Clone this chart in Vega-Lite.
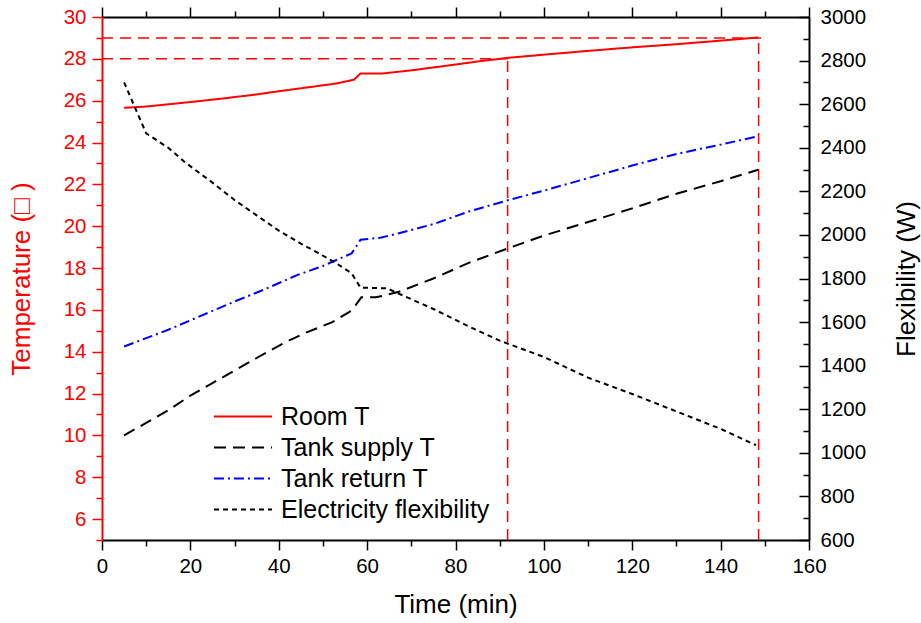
{
  "$schema": "https://vega.github.io/schema/vega-lite/v6.json",
  "autosize": {"type": "none"},
  "padding": {"left": 102, "top": 17, "right": 112, "bottom": 83},
  "width": 707,
  "height": 523,
  "background": "white",
  "config": {
    "view": {"stroke": null},
    "font": "Liberation Sans",
    "axis": {
      "labelFont": "Liberation Sans",
      "titleFont": "Liberation Sans",
      "labelFontSize": 20.5,
      "titleFontSize": 26,
      "titleFontWeight": "normal",
      "labelColor": "black",
      "titleColor": "black",
      "domainColor": "black",
      "tickColor": "black",
      "domainWidth": 2,
      "tickWidth": 1.5,
      "grid": false,
      "labelOverlap": false,
      "labelFlush": false,
      "labelBound": false
    }
  },
  "datasets": {
    "temps": [
      {"series": "Room T", "t": 5, "v": 25.66},
      {"series": "Room T", "t": 10, "v": 25.72},
      {"series": "Room T", "t": 17, "v": 25.87},
      {"series": "Room T", "t": 22, "v": 25.98},
      {"series": "Room T", "t": 28, "v": 26.12},
      {"series": "Room T", "t": 35, "v": 26.3},
      {"series": "Room T", "t": 40, "v": 26.45},
      {"series": "Room T", "t": 47, "v": 26.65},
      {"series": "Room T", "t": 53, "v": 26.82},
      {"series": "Room T", "t": 57, "v": 27.0},
      {"series": "Room T", "t": 58.5, "v": 27.3},
      {"series": "Room T", "t": 63.5, "v": 27.3},
      {"series": "Room T", "t": 70, "v": 27.45},
      {"series": "Room T", "t": 79, "v": 27.7},
      {"series": "Room T", "t": 86, "v": 27.9},
      {"series": "Room T", "t": 92, "v": 28.05},
      {"series": "Room T", "t": 100, "v": 28.2},
      {"series": "Room T", "t": 110, "v": 28.38},
      {"series": "Room T", "t": 120, "v": 28.55},
      {"series": "Room T", "t": 130, "v": 28.7},
      {"series": "Room T", "t": 140, "v": 28.87},
      {"series": "Room T", "t": 148.5, "v": 29.02},
      {"series": "Tank supply T", "t": 5, "v": 10.0},
      {"series": "Tank supply T", "t": 10, "v": 10.6},
      {"series": "Tank supply T", "t": 15, "v": 11.2},
      {"series": "Tank supply T", "t": 20, "v": 11.9},
      {"series": "Tank supply T", "t": 25, "v": 12.5},
      {"series": "Tank supply T", "t": 30, "v": 13.1},
      {"series": "Tank supply T", "t": 35, "v": 13.7},
      {"series": "Tank supply T", "t": 41, "v": 14.4},
      {"series": "Tank supply T", "t": 46, "v": 14.9},
      {"series": "Tank supply T", "t": 52, "v": 15.4},
      {"series": "Tank supply T", "t": 56, "v": 15.9},
      {"series": "Tank supply T", "t": 57.5, "v": 16.25},
      {"series": "Tank supply T", "t": 58.7, "v": 16.6},
      {"series": "Tank supply T", "t": 62, "v": 16.6},
      {"series": "Tank supply T", "t": 67, "v": 16.85},
      {"series": "Tank supply T", "t": 75, "v": 17.5},
      {"series": "Tank supply T", "t": 83, "v": 18.25},
      {"series": "Tank supply T", "t": 92, "v": 18.95},
      {"series": "Tank supply T", "t": 100, "v": 19.55},
      {"series": "Tank supply T", "t": 110, "v": 20.2},
      {"series": "Tank supply T", "t": 120, "v": 20.85},
      {"series": "Tank supply T", "t": 130, "v": 21.55},
      {"series": "Tank supply T", "t": 140, "v": 22.15},
      {"series": "Tank supply T", "t": 148.5, "v": 22.7},
      {"series": "Tank return T", "t": 5, "v": 14.25},
      {"series": "Tank return T", "t": 10, "v": 14.65},
      {"series": "Tank return T", "t": 15, "v": 15.05},
      {"series": "Tank return T", "t": 20, "v": 15.5},
      {"series": "Tank return T", "t": 25, "v": 15.95},
      {"series": "Tank return T", "t": 30, "v": 16.4},
      {"series": "Tank return T", "t": 37, "v": 17.0},
      {"series": "Tank return T", "t": 44, "v": 17.65},
      {"series": "Tank return T", "t": 50, "v": 18.1},
      {"series": "Tank return T", "t": 56.5, "v": 18.7},
      {"series": "Tank return T", "t": 58.5, "v": 19.35},
      {"series": "Tank return T", "t": 63, "v": 19.45},
      {"series": "Tank return T", "t": 67, "v": 19.65},
      {"series": "Tank return T", "t": 75, "v": 20.1},
      {"series": "Tank return T", "t": 83, "v": 20.7},
      {"series": "Tank return T", "t": 92, "v": 21.25},
      {"series": "Tank return T", "t": 100, "v": 21.7},
      {"series": "Tank return T", "t": 110, "v": 22.3},
      {"series": "Tank return T", "t": 120, "v": 22.9},
      {"series": "Tank return T", "t": 130, "v": 23.45},
      {"series": "Tank return T", "t": 140, "v": 23.9},
      {"series": "Tank return T", "t": 148.5, "v": 24.3}
    ],
    "flex": [
      {"series": "Electricity flexibility", "t": 5, "w": 2700},
      {"series": "Electricity flexibility", "t": 10, "w": 2466},
      {"series": "Electricity flexibility", "t": 15, "w": 2400},
      {"series": "Electricity flexibility", "t": 19, "w": 2330},
      {"series": "Electricity flexibility", "t": 25, "w": 2240},
      {"series": "Electricity flexibility", "t": 30, "w": 2160},
      {"series": "Electricity flexibility", "t": 35, "w": 2090},
      {"series": "Electricity flexibility", "t": 40, "w": 2020},
      {"series": "Electricity flexibility", "t": 45, "w": 1960},
      {"series": "Electricity flexibility", "t": 49, "w": 1916},
      {"series": "Electricity flexibility", "t": 53, "w": 1870},
      {"series": "Electricity flexibility", "t": 56.5, "w": 1824},
      {"series": "Electricity flexibility", "t": 58.5, "w": 1758},
      {"series": "Electricity flexibility", "t": 64.5, "w": 1755},
      {"series": "Electricity flexibility", "t": 67, "w": 1732},
      {"series": "Electricity flexibility", "t": 75, "w": 1660},
      {"series": "Electricity flexibility", "t": 83, "w": 1580},
      {"series": "Electricity flexibility", "t": 90, "w": 1515},
      {"series": "Electricity flexibility", "t": 100, "w": 1440},
      {"series": "Electricity flexibility", "t": 110, "w": 1345},
      {"series": "Electricity flexibility", "t": 120, "w": 1270},
      {"series": "Electricity flexibility", "t": 130, "w": 1190},
      {"series": "Electricity flexibility", "t": 140, "w": 1110},
      {"series": "Electricity flexibility", "t": 148, "w": 1035}
    ],
    "refs": [
      {"t": 0, "t2": 91.8, "v": 28, "v2": 28},
      {"t": 0, "t2": 149.5, "v": 29, "v2": 29},
      {"t": 91.8, "t2": 91.8, "v": 5, "v2": 28},
      {"t": 148.6, "t2": 148.6, "v": 5, "v2": 29}
    ]
  },
  "layer": [
    {
      "encoding": {
        "x": {
          "field": "t", "type": "quantitative",
          "scale": {"domain": [0, 160], "nice": false, "zero": false},
          "axis": {
            "orient": "bottom",
            "title": "Time (min)",
            "values": [0, 10, 20, 30, 40, 50, 60, 70, 80, 90, 100, 110, 120, 130, 140, 150, 160],
            "labelExpr": "datum.value % 20 === 0 ? datum.label : ''",
            "tickSize": {"condition": {"test": "datum.value % 20 !== 0", "value": 6}, "value": 10},
            "labelPadding": 6,
            "titlePadding": 15
          }
        },
        "y": {
          "field": "v", "type": "quantitative",
          "scale": {"domain": [5, 30], "nice": false, "zero": false},
          "axis": {
            "orient": "left",
            "title": "Temperature (□ )",
            "values": [5, 6, 7, 8, 9, 10, 11, 12, 13, 14, 15, 16, 17, 18, 19, 20, 21, 22, 23, 24, 25, 26, 27, 28, 29, 30],
            "labelExpr": "datum.value % 2 === 0 ? datum.label : ''",
            "tickSize": {"condition": {"test": "datum.value % 2 !== 0", "value": 6}, "value": 10},
            "domainColor": "#ff0000",
            "tickColor": "#ff0000",
            "labelColor": "#ff0000",
            "titleColor": "#ff0000",
            "labelPadding": 6,
            "titlePadding": 29
          }
        }
      },
      "layer": [
        {
          "data": {"name": "refs"},
          "mark": {"type": "rule", "color": "#ff0000", "strokeWidth": 1.5, "strokeDash": [11, 7]},
          "encoding": {
            "x2": {"field": "t2"},
            "y2": {"field": "v2"}
          }
        },
        {
          "data": {"name": "temps"},
          "mark": {"type": "line", "strokeWidth": 2},
          "encoding": {
            "color": {
              "field": "series", "type": "nominal",
              "scale": {
                "domain": ["Room T", "Tank supply T", "Tank return T", "Electricity flexibility"],
                "range": ["#ff0000", "#000000", "#0000ff", "#000000"]
              },
              "legend": {
                "orient": "none", "legendX": 111, "legendY": 384, "title": null,
                "symbolType": "stroke", "symbolSize": 3364, "symbolStrokeWidth": 2,
                "labelFont": "Liberation Sans", "labelFontSize": 25, "labelColor": "black", "labelLimit": 0,
                "labelOffset": 8, "clipHeight": 31, "rowPadding": 0, "padding": 0
              }
            },
            "strokeDash": {
              "field": "series", "type": "nominal",
              "scale": {
                "domain": ["Room T", "Tank supply T", "Tank return T", "Electricity flexibility"],
                "range": [[1, 0], [12, 7], [10, 4, 2, 4], [5, 4]]
              },
              "legend": {
                "orient": "none", "legendX": 111, "legendY": 384, "title": null,
                "symbolType": "stroke", "symbolSize": 3364, "symbolStrokeWidth": 2,
                "labelFont": "Liberation Sans", "labelFontSize": 25, "labelColor": "black", "labelLimit": 0,
                "labelOffset": 8, "clipHeight": 31, "rowPadding": 0, "padding": 0
              }
            }
          }
        }
      ]
    },
    {
      "data": {"name": "flex"},
      "mark": {"type": "line", "strokeWidth": 2},
      "encoding": {
        "x": {
          "field": "t", "type": "quantitative",
          "scale": {"domain": [0, 160], "nice": false, "zero": false},
          "axis": {
            "orient": "top",
            "title": null,
            "labels": false,
            "values": [0, 10, 20, 30, 40, 50, 60, 70, 80, 90, 100, 110, 120, 130, 140, 150, 160],
            "tickSize": {"condition": {"test": "datum.value % 20 !== 0", "value": 6}, "value": 10}
          }
        },
        "y": {
          "field": "w", "type": "quantitative",
          "scale": {"domain": [600, 3000], "nice": false, "zero": false},
          "axis": {
            "orient": "right",
            "title": "Flexibility (W)",
            "titleAngle": 270,
            "titleBaseline": "top",
            "values": [600, 700, 800, 900, 1000, 1100, 1200, 1300, 1400, 1500, 1600, 1700, 1800, 1900, 2000, 2100, 2200, 2300, 2400, 2500, 2600, 2700, 2800, 2900, 3000],
            "labelExpr": "datum.value % 200 === 0 ? datum.label : ''",
            "format": "d",
            "tickSize": {"condition": {"test": "datum.value % 200 !== 0", "value": -6}, "value": -10},
            "labelPadding": 21,
            "titlePadding": 28
          }
        },
        "color": {
          "field": "series", "type": "nominal",
          "scale": {
            "domain": ["Room T", "Tank supply T", "Tank return T", "Electricity flexibility"],
            "range": ["#ff0000", "#000000", "#0000ff", "#000000"]
          },
          "legend": {
            "orient": "none", "legendX": 111, "legendY": 384, "title": null,
            "symbolType": "stroke", "symbolSize": 3364, "symbolStrokeWidth": 2,
            "labelFont": "Liberation Sans", "labelFontSize": 25, "labelColor": "black", "labelLimit": 0,
            "labelOffset": 8, "clipHeight": 31, "rowPadding": 0, "padding": 0
          }
        },
        "strokeDash": {
          "field": "series", "type": "nominal",
          "scale": {
            "domain": ["Room T", "Tank supply T", "Tank return T", "Electricity flexibility"],
            "range": [[1, 0], [12, 7], [10, 4, 2, 4], [5, 4]]
          },
          "legend": {
            "orient": "none", "legendX": 111, "legendY": 384, "title": null,
            "symbolType": "stroke", "symbolSize": 3364, "symbolStrokeWidth": 2,
            "labelFont": "Liberation Sans", "labelFontSize": 25, "labelColor": "black", "labelLimit": 0,
            "labelOffset": 8, "clipHeight": 31, "rowPadding": 0, "padding": 0
          }
        }
      }
    }
  ],
  "resolve": {
    "scale": {"y": "independent"},
    "axis": {"x": "independent", "y": "independent"}
  }
}
